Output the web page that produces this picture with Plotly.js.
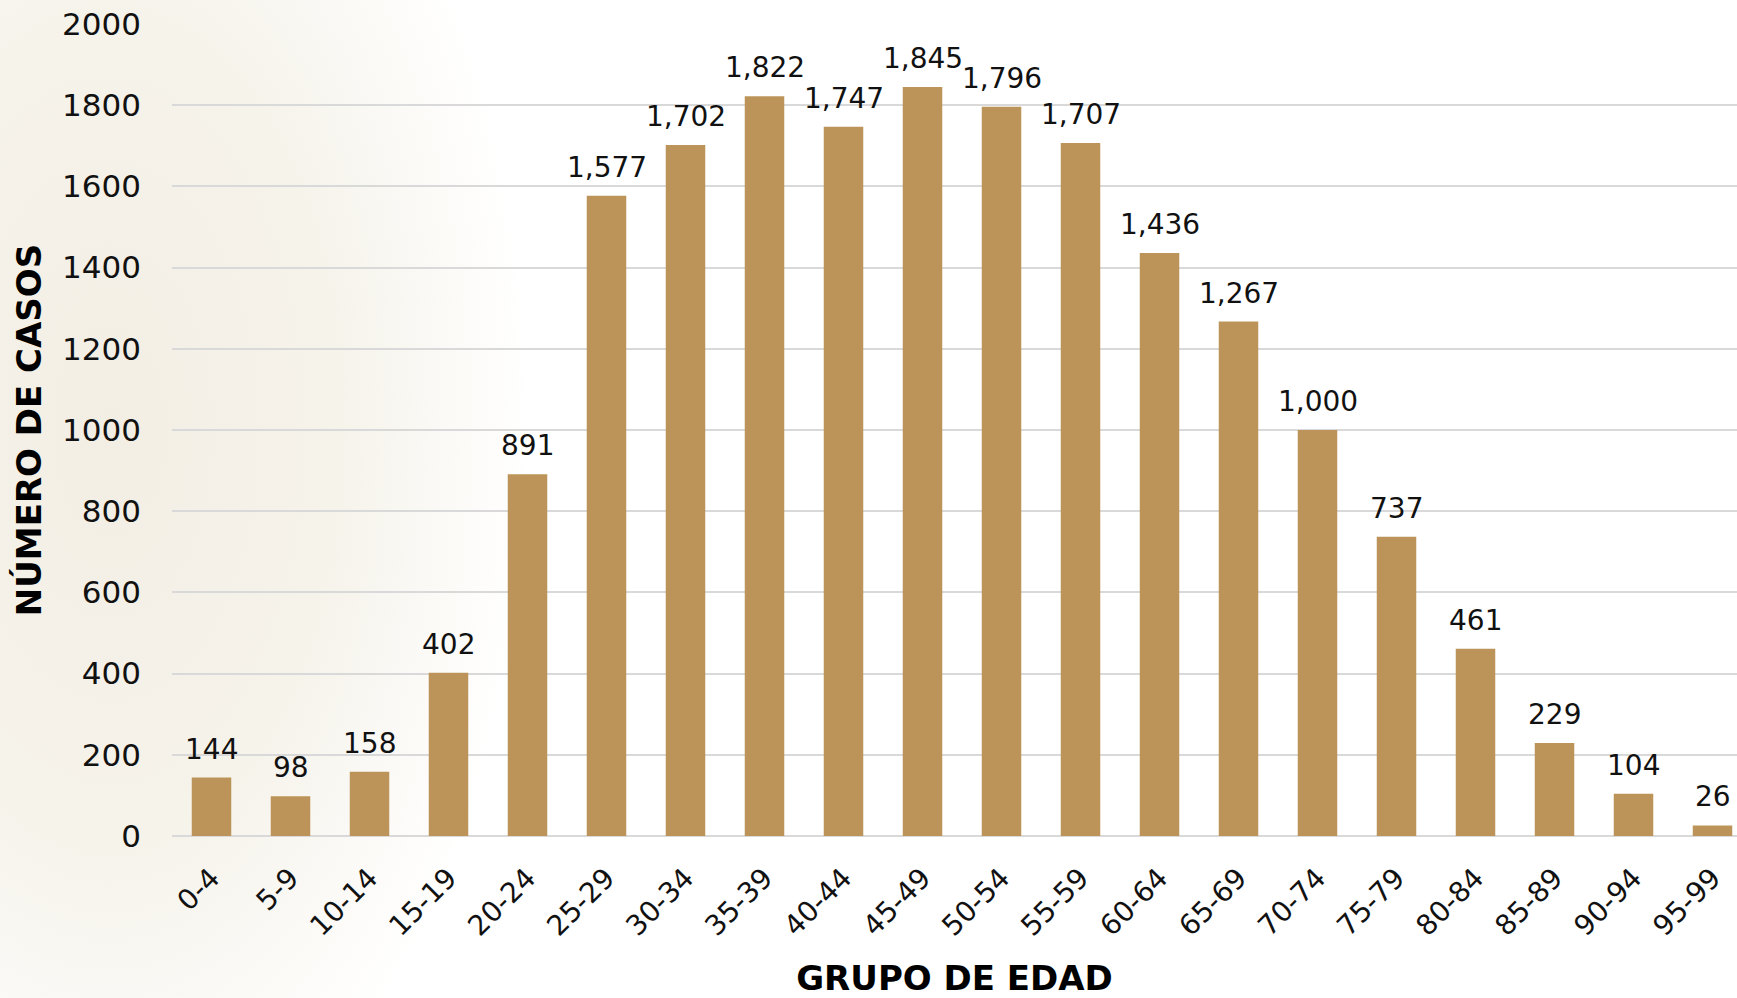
<!DOCTYPE html>
<html>
<head>
<meta charset="utf-8">
<script src="https://cdn.plot.ly/plotly-3.0.1.min.js"></script>
<style>
html,body{margin:0;padding:0;}
body{width:1737px;height:998px;overflow:hidden;
background: radial-gradient(ellipse 420px 760px at 110px 430px, #f2eee4 0%, #f6f3eb 55%, rgba(255,255,255,0) 100%), #ffffff;}
#chart{width:1737px;height:998px;}
</style>
</head>
<body>
<div id="chart"></div>
<script>
const categories = ["0-4","5-9","10-14","15-19","20-24","25-29","30-34","35-39","40-44","45-49","50-54","55-59","60-64","65-69","70-74","75-79","80-84","85-89","90-94","95-99"];
const casos = [144,98,158,402,891,1577,1702,1822,1747,1845,1796,1707,1436,1267,1000,737,461,229,104,26];
const yTicks = [0,200,400,600,800,1000,1200,1400,1600,1800,2000];

const FONT = '"DejaVu Sans", "Open Sans", sans-serif';
const BAR = '#BC9459';

const fmt = v => v.toLocaleString('en-US');

const trace = {
  type: 'bar',
  x: categories,
  y: casos,
  marker: {color: BAR, line: {width: 0}},
  hoverinfo: 'x+y'
};

const annotations = categories.map((c, i) => ({
  x: c, y: casos[i], xref: 'x', yref: 'y',
  text: fmt(casos[i]), showarrow: false,
  yanchor: 'bottom', yshift: 10,
  font: {family: FONT, size: 28, color: '#111111'}
}));

const layout = {
  width: 1737, height: 998,
  paper_bgcolor: 'rgba(0,0,0,0)',
  plot_bgcolor: 'rgba(0,0,0,0)',
  margin: {l: 172, r: 0, t: 24, b: 162},
  bargap: 0.5,
  showlegend: false,
  font: {family: FONT, color: '#111111'},
  xaxis: {
    type: 'category',
    range: [-0.5, 19.31],
    tickangle: -45,
    tickfont: {family: FONT, size: 28, color: '#111111'},
    ticks: '', showgrid: false, showline: false, zeroline: false,
    ticklabelstandoff: 19,
    title: {text: 'GRUPO DE EDAD', font: {family: FONT, size: 34, color: '#000000', weight: 'bold'}, standoff: 30},
    automargin: false
  },
  yaxis: {
    range: [0, 2000],
    tickvals: yTicks,
    ticktext: yTicks.map(String),
    tickfont: {family: FONT, size: 31, color: '#111111'},
    showgrid: true, gridcolor: '#d9d9d9', gridwidth: 2,
    zeroline: true, zerolinecolor: '#d9d9d9', zerolinewidth: 2,
    showline: false, ticks: '',
    ticklabelstandoff: 30,
    title: {text: 'NÚMERO DE CASOS', font: {family: FONT, size: 34, color: '#000000', weight: 'bold'}, standoff: 10},
    automargin: false
  },
  annotations: annotations
};

Plotly.newPlot('chart', [trace], layout, {displayModeBar: false, staticPlot: true});
</script>
</body>
</html>
